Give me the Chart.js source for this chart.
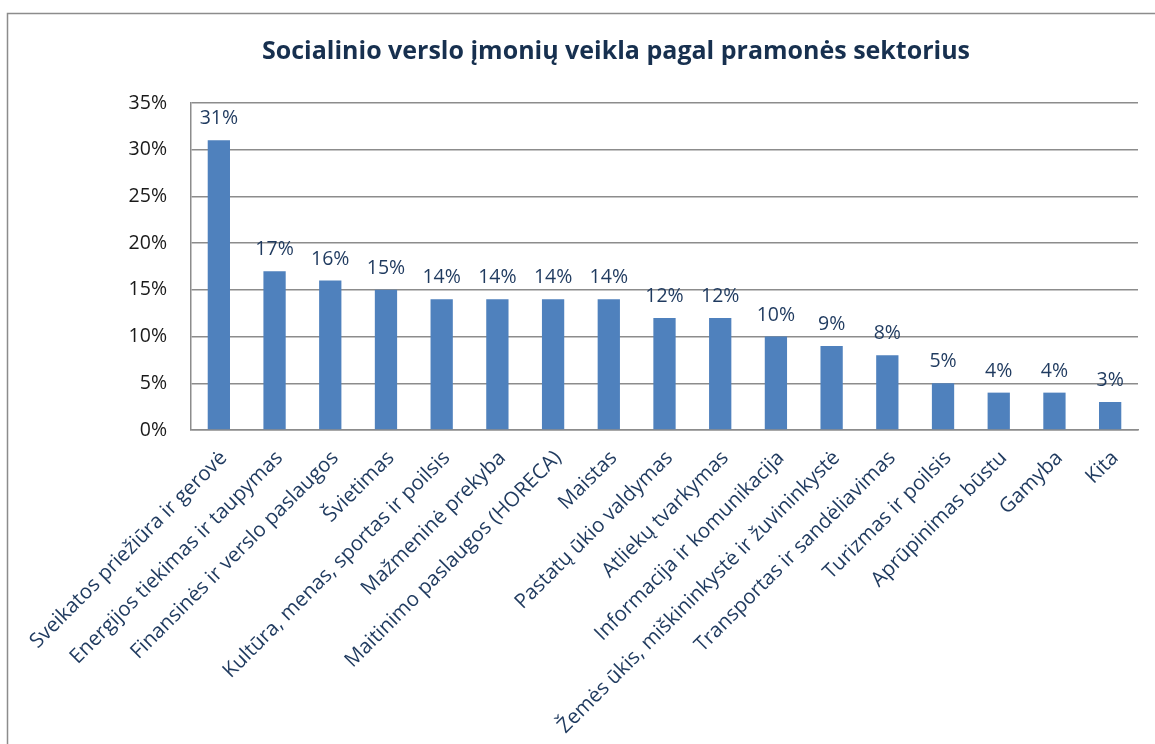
<!DOCTYPE html>
<html>
<head>
<meta charset="utf-8">
<script src="https://cdn.jsdelivr.net/npm/chart.js@4.4.1/dist/chart.umd.min.js"></script>
<style>
  html, body { margin: 0; padding: 0; background: #ffffff; }
  #wrap { position: relative; width: 1155px; height: 744px; }
</style>
</head>
<body>
<div id="wrap"><canvas id="c" width="1155" height="744"></canvas></div>
<script>
const chartTitle = "Socialinio verslo įmonių veikla pagal pramonės sektorius";
const categories = [
  "Sveikatos priežiūra ir gerovė",
  "Energijos tiekimas ir taupymas",
  "Finansinės ir verslo paslaugos",
  "Švietimas",
  "Kultūra, menas, sportas ir poilsis",
  "Mažmeninė prekyba",
  "Maitinimo paslaugos (HORECA)",
  "Maistas",
  "Pastatų ūkio valdymas",
  "Atliekų tvarkymas",
  "Informacija ir komunikacija",
  "Žemės ūkis, miškininkystė ir žuvininkystė",
  "Transportas ir sandėliavimas",
  "Turizmas ir poilsis",
  "Aprūpinimas būstu",
  "Gamyba",
  "Kita"
];
const shares = [31, 17, 16, 15, 14, 14, 14, 14, 12, 12, 10, 9, 8, 5, 4, 4, 3];
const yTicks = [0, 5, 10, 15, 20, 25, 30, 35];

const FONT = "'Open Sans', 'Noto Sans', sans-serif";
const NAVY = "#1F3A5F";
const GRID = "#8C8C8C";

const frame = {
  id: 'frame',
  beforeDraw(chart) {
    const ctx = chart.ctx;
    ctx.save();
    ctx.fillStyle = '#ffffff';
    ctx.fillRect(0, 0, chart.width, chart.height);
    ctx.strokeStyle = '#8C8C8C';
    ctx.lineWidth = 1.5;
    ctx.strokeRect(7.5, 13.5, 1300, 900);
    ctx.restore();
  }
};

const valueLabels = {
  id: 'valueLabels',
  afterDatasetsDraw(chart) {
    const ctx = chart.ctx;
    const meta = chart.getDatasetMeta(0);
    ctx.save();
    ctx.font = "19.5px " + FONT;
    ctx.fillStyle = NAVY;
    ctx.textAlign = 'center';
    ctx.textBaseline = 'alphabetic';
    meta.data.forEach((bar, i) => {
      ctx.fillText(shares[i] + '%', bar.x, bar.y - 16);
    });
    ctx.restore();
  }
};

new Chart(document.getElementById('c'), {
  type: 'bar',
  data: {
    labels: categories,
    datasets: [{
      data: shares,
      backgroundColor: '#4F81BD',
      borderWidth: 0,
      barPercentage: 0.4,
      categoryPercentage: 1.0
    }]
  },
  options: {
    responsive: false,
    animation: false,
    devicePixelRatio: 1,
    layout: { padding: { left: 94, right: 17, top: 0, bottom: 0 } },
    plugins: {
      legend: { display: false },
      tooltip: { enabled: false },
      title: {
        display: true,
        text: chartTitle,
        color: '#17304F',
        font: { family: FONT, size: 25, weight: 'bold' },
        padding: { top: 37, bottom: 36 }
      }
    },
    scales: {
      x: {
        grid: { display: false, drawTicks: false },
        border: { display: true, color: GRID, width: 1.5 },
        ticks: {
          color: NAVY,
          font: { family: FONT, size: 20.5 },
          minRotation: 45,
          maxRotation: 45,
          autoSkip: false,
          padding: 16,
          labelOffset: 5
        },
        afterFit(scale) { scale.height = 314; }
      },
      y: {
        min: 0,
        max: 35,
        afterBuildTicks(scale) { scale.ticks = yTicks.map(v => ({ value: v })); },
        grid: { color: GRID, lineWidth: 1.5, drawTicks: false },
        border: { display: true, color: GRID, width: 1.5 },
        ticks: {
          color: '#1a1a1a',
          font: { family: FONT, size: 19.5 },
          padding: 24,
          callback: (v) => v + '%'
        },
        afterFit(scale) { scale.width = 97; }
      }
    }
  },
  plugins: [frame, valueLabels]
});
</script>
</body>
</html>
